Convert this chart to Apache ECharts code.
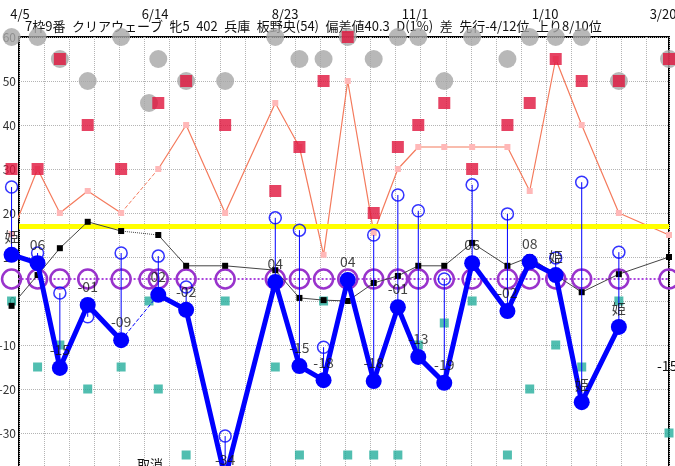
<!DOCTYPE html>
<html><head><meta charset="utf-8">
<script src="https://cdn.jsdelivr.net/npm/echarts@6/dist/echarts.min.js"></script>
<style>html,body{margin:0;padding:0;background:#fff}#c{width:675px;height:466px}</style>
</head><body><div id="c"></div>
<script>
const FONT = '"Noto Sans CJK JP", "Noto Sans", sans-serif';
const titleText = '7枠9番 クリアウェーブ 牝5 402 兵庫 板野央(54) 偏差値40.3 D(1%) 差 先行-4/12位 上り8/10位';
// race dates as day offsets from 4/5
const raceDays = [-4, 10, 22, 37, 55, 70, 75, 90, 111, 138, 151, 164, 177, 191, 204, 215, 229, 244, 263, 275, 289, 303, 323, 350];
const prevDay = -18;
const tickDays = [0, 70, 140, 210, 280, 350];
const tickLabels = ['4/5', '6/14', '8/23', '11/1', '1/10', '3/20'];
const grayVals  = [60, 60, 55, 50, 60, 45, 55, 50, 50, 60, 55, 55, 60, 55, 60, 60, 50, 60, 55, 60, 60, 60, 50, 55];
const redVals   = [30, 30, 55, 40, 30, null, 45, 50, 40, 25, 35, 50, 60, 20, 35, 40, 45, 30, 40, 45, 55, 50, 50, 55];
const pinkVals  = [15.2, 30, 20, 25, 20, null, 30, 40, 20, 45, 35, 10.5, 50, 15.5, 30, 35, 35, 35, 35, 25, 55, 40, 20, 15];
const blackVals = [-1.1, 5.9, 12, 18, 15.9, null, 15, 8, 8, 7, 0.7, 0.2, 0, 4.1, 5.7, 8, 8, 13.2, 8, 10, 5.9, 2, 6.1, 10];
const blackPrev = -1;
const tealVals  = [0, -15, -10, -20, -15, 0, -20, -35, 0, -15, -35, 0, -35, -35, -35, -10, -5, 0, -35, -20, -10, -15, 0, -30];
const purpleVals = [5, 5, 5, 5, 5, 5, 5, 5, 5, 5, 5, 5, 5, 5, 5, 5, 5, 5, 5, 5, 5, 5, 5, 5];
const purplePrev = 5;
const blueVals  = [10.5, 8.6, -15.2, -0.9, -8.9, null, 1.4, -2.0, -40.2, 4.3, -14.8, -18.0, 4.8, -18.2, -1.4, -12.7, -18.6, 8.6, -2.3, 8.9, 5.9, -23.0, -5.9, null];
const bluePrev = 10.5;
const hollowVals = [25.9, 10.9, 1.8, -3.6, 10.9, null, 10.2, 3.2, -30.7, 18.9, 16.1, -10.5, null, 15.0, 24.1, 20.5, 5, 26.4, 19.8, null, 9.8, 27.0, 11.1, null];
const blueLabels = ['姫', '06', '-15', '-01', '-09', '', '02', '-02', '-34', '04', '-15', '-18', '04', '-18', '-01', '-13', '-19', '06', '-02', '08', '姫', '姫', '姫', ''];
const refLine = [17];
const gapFrom = 4, gapTo = 6;

function pts(vals) {
  const out = [];
  raceDays.forEach((d, i) => { if (vals[i] != null) out.push([d, vals[i]]); });
  return out;
}
function lineData(vals, prev) {
  const out = [];
  if (prev != null) out.push([prevDay, prev]);
  raceDays.forEach((d, i) => out.push([d, vals[i] == null ? '-' : vals[i]]));
  return out;
}
function bridge(vals) { return [[raceDays[gapFrom], vals[gapFrom]], [raceDays[gapTo], vals[gapTo]]]; }

const blueData = [[prevDay, bluePrev]];
raceDays.forEach((d, i) => blueData.push([d, blueVals[i] == null ? '-' : blueVals[i]]));
const labelData = [];
raceDays.forEach((d, i) => { if (blueVals[i] != null && blueLabels[i]) labelData.push({ value: [d, blueVals[i]], name: blueLabels[i] }); });

const stems = [];
raceDays.forEach((d, i) => { if (blueVals[i] != null && hollowVals[i] != null) stems.push([d, blueVals[i], hollowVals[i]]); });

const chart = echarts.init(document.getElementById('c'), null, { renderer: 'canvas' });
chart.setOption({
  animation: false,
  backgroundColor: '#fff',
  textStyle: { fontFamily: FONT },
  title: {
    text: titleText.replace(/ /g, '\u2002'), left: 25, top: 20, padding: 0, z: 0,
    textStyle: { fontSize: 13, fontWeight: 'normal', color: '#111', fontFamily: FONT }
  },
  grid: { left: 19, top: 37, width: 650, height: 440, outerBoundsMode: 'none', containLabel: false,
    show: true, borderColor: '#000', borderWidth: 2, backgroundColor: 'transparent' },
  xAxis: [{
    type: 'value', min: 0, max: 350, interval: 13.52, position: 'top',
    axisLine: { show: false }, axisTick: { show: false }, axisLabel: { show: false },
    splitLine: { show: true, lineStyle: { color: '#b4b4b4', type: 'dotted', width: 1 } }
  }, {
    type: 'value', min: 0, max: 350, interval: 70, position: 'top',
    axisLine: { show: false }, axisTick: { show: false }, splitLine: { show: false },
    axisLabel: {
      margin: 16, fontSize: 13, color: '#111', fontFamily: FONT,
      showMinLabel: true, showMaxLabel: true,
      formatter: function (v) {
        const i = tickDays.indexOf(v);
        if (i < 0) return '';
        if (i === 0) return '{f|' + tickLabels[i] + '}';
        if (i === tickLabels.length - 1) return '{l|' + tickLabels[i] + '}';
        return '{m|' + tickLabels[i] + '}';
      },
      rich: {
        f: { fontSize: 13, color: '#111', padding: [0, 0, 0, 2], fontFamily: FONT },
        m: { fontSize: 13, color: '#111', padding: [0, 0, 0, 12], fontFamily: FONT },
        l: { fontSize: 13, color: '#111', padding: [0, 12, 0, 0], fontFamily: FONT }
      }
    }
  }],
  yAxis: {
    type: 'value', min: -40, max: 60, interval: 10,
    axisLine: { show: false }, axisTick: { show: false },
    axisLabel: { margin: 3, fontSize: 12, color: '#333', fontFamily: FONT },
    splitLine: { show: true, lineStyle: { color: '#b4b4b4', type: 'dotted', width: 1 } }
  },
  graphic: [
    { type: 'text', left: 657, top: 359, z: 10, style: { text: '-15', fontSize: 14, fill: '#111', fontFamily: FONT } },
    { type: 'text', left: 137, top: 458, z: 10, style: { text: '取消', fontSize: 13, fill: '#111', fontFamily: FONT } }
  ],
  series: [
    { type: 'scatter', name: 'gray', data: pts(grayVals), symbol: 'circle', symbolSize: 18, clip: false, z: 2,
      itemStyle: { color: '#a6a6a6' } },
    { type: 'line', name: 'ref', data: [], clip: false, z: 2,
      markLine: { silent: true, symbol: 'none', label: { show: false },
        lineStyle: { color: '#ffff00', width: 5, type: 'solid' },
        data: refLine.map(v => ({ yAxis: v })) } },
    { type: 'line', name: 'pink', data: lineData(pinkVals, null), clip: false, connectNulls: false, z: 2,
      symbol: 'rect', symbolSize: 6, itemStyle: { color: '#ffb8b8' },
      lineStyle: { color: '#f47a5c', width: 1.2 } },
    { type: 'line', name: 'pinkGap', data: bridge(pinkVals), clip: false, showSymbol: false, z: 2,
      lineStyle: { color: '#f47a5c', width: 1, type: 'dashed' } },
    { type: 'scatter', name: 'red', data: pts(redVals), symbol: 'rect', symbolSize: 12, clip: false, z: 3,
      itemStyle: { color: '#e0143c' } },
    { type: 'scatter', name: 'teal', data: pts(tealVals), symbol: 'rect', symbolSize: 9, clip: false, z: 3,
      itemStyle: { color: '#26ae9c' } },
    { type: 'line', name: 'purple', data: lineData(purpleVals, purplePrev), clip: false, z: 4,
      symbol: 'circle', symbolSize: 19,
      itemStyle: { color: 'rgba(0,0,0,0)', borderColor: '#9933cc', borderWidth: 2.5 },
      lineStyle: { color: '#aa44dd', width: 2, type: 'dotted' } },
    { type: 'line', name: 'black', data: lineData(blackVals, blackPrev), clip: false, connectNulls: false, z: 5,
      symbol: 'rect', symbolSize: 6, itemStyle: { color: '#000' },
      lineStyle: { color: '#444', width: 1 } },
    { type: 'line', name: 'blackGap', data: bridge(blackVals), clip: false, showSymbol: false, z: 5,
      lineStyle: { color: '#444', width: 1, type: 'dotted' } },
    { type: 'custom', name: 'stems', data: stems, clip: false, z: 6,
      renderItem: function (params, api) {
        const a = api.coord([api.value(0), api.value(1)]);
        const b = api.coord([api.value(0), api.value(2)]);
        return { type: 'line', shape: { x1: a[0], y1: a[1], x2: b[0], y2: b[1] },
          style: { stroke: '#0000ff', lineWidth: 1 } };
      } },
    { type: 'scatter', name: 'hollow', data: pts(hollowVals), symbol: 'circle', symbolSize: 12, clip: false, z: 6,
      itemStyle: { color: 'rgba(0,0,0,0)', borderColor: '#0000ff', borderWidth: 1.5 } },
    { type: 'line', name: 'blueGap', data: bridge(blueVals), clip: false, showSymbol: false, z: 7,
      lineStyle: { color: '#0000ff', width: 1, type: 'dashed' } },
    { type: 'line', name: 'blue', data: blueData, clip: false, connectNulls: false, z: 7,
      symbol: 'circle', symbolSize: 16, itemStyle: { color: '#0000ff' },
      lineStyle: { color: '#0000ff', width: 5 } },
    { type: 'scatter', name: 'blueLabels', data: labelData, clip: false, zlevel: 1, z: 20, silent: true,
      symbol: 'circle', symbolSize: 16, itemStyle: { color: 'rgba(0,0,0,0)' },
      label: { show: true, position: 'top', distance: 3, fontSize: 14, color: '#111', fontFamily: FONT,
        formatter: p => p.name } }
  ]
});
</script></body></html>
